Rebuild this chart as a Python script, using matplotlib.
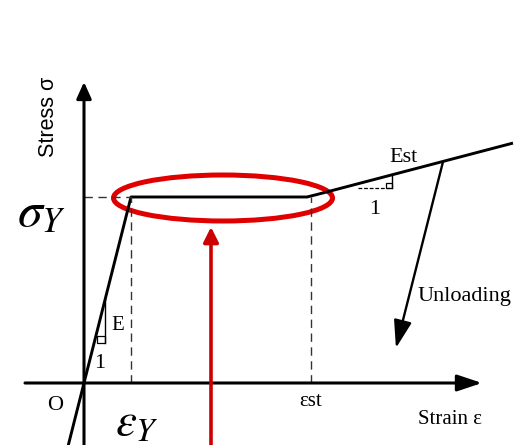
import matplotlib
matplotlib.use("Agg")
import matplotlib.pyplot as plt
from matplotlib.patches import Ellipse, Rectangle

plt.rcParams["mathtext.fontset"] = "stix"

# Idealised steel stress-strain relation (arbitrary units)
eps_y = 0.47          # yield strain
eps_st = 2.27         # onset of strain hardening
sigma_y = 1.86        # yield stress
E_mod = sigma_y / eps_y
E_st = 0.267          # hardening modulus
eps_end = 4.29        # end of drawn hardening branch
eps_unload = 3.59     # strain where unloading begins
sigma_unload_end = 0.35

curve_eps = [-0.16, 0.0, eps_y, eps_st - 0.04, eps_st + 0.06, eps_end]
curve_sig = [E_mod * -0.16, 0.0, sigma_y, sigma_y, sigma_y + 0.025,
             sigma_y + E_st * (eps_end - eps_st)]

fig = plt.figure(figsize=(5.22, 4.45), dpi=100)
ax = fig.add_axes([0, 0, 1, 1])
ax.set_xlim(-0.84, 4.38)
ax.set_ylim(-0.62, 3.83)
ax.axis("off")

serif = "Liberation Serif"
ink = "black"

# Axes with arrows
ax.annotate("", xy=(3.98, 0), xytext=(-0.59, 0),
            arrowprops=dict(arrowstyle="-|>,head_length=1.5,head_width=0.5",
                            color=ink, lw=2.2, shrinkA=0, shrinkB=0))
ax.annotate("", xy=(0, 3.01), xytext=(0, -0.64),
            arrowprops=dict(arrowstyle="-|>,head_length=1.0,head_width=0.45",
                            color=ink, lw=2.2, shrinkA=0, shrinkB=0))

# Stress-strain curve
ax.plot(curve_eps, curve_sig, color=ink, lw=2.1, solid_capstyle="butt")

# Unloading branch
sig_u = sigma_y + E_st * (eps_unload - eps_st)
eps_u_end = eps_unload - (sig_u - sigma_unload_end) / E_mod
ax.annotate("", xy=(eps_u_end, sigma_unload_end), xytext=(eps_unload, sig_u),
            arrowprops=dict(arrowstyle="-|>,head_length=1.7,head_width=0.55",
                            color=ink, lw=1.7, shrinkA=0, shrinkB=0))

# Dashed guides
dash = dict(color="#333333", lw=1.0, ls=(0, (6, 4)))
ax.plot([0, eps_y], [sigma_y, sigma_y], **dash)
ax.plot([eps_y, eps_y], [0, sigma_y], **dash)
ax.plot([eps_st, eps_st], [0, sigma_y], **dash)

# Slope triangle for E
tri_x = 0.21
ax.plot([tri_x, tri_x], [0.40, tri_x * E_mod + 0.02], color=ink, lw=1.0)
ax.add_patch(Rectangle((tri_x - 0.08, 0.40), 0.08, 0.07, fill=False, ec=ink, lw=0.9))
ax.text(tri_x + 0.06, 0.58, "E", family=serif, fontsize=15, ha="left", va="center")
ax.text(0.16, 0.19, "1", family=serif, fontsize=16, ha="center", va="center")

# Slope triangle for Est
t0, t1 = 2.74, 3.08
ax.plot([t0, t1], [sigma_y + 0.087, sigma_y + 0.087], color=ink, lw=0.9, ls=(0, (3, 1.5)))
ax.plot([t1, t1], [sigma_y + 0.087, sigma_y + E_st * (t1 - eps_st)], color=ink, lw=1.0)
ax.add_patch(Rectangle((t1 - 0.06, sigma_y + 0.087), 0.06, 0.055, fill=False, ec=ink, lw=0.9))
ax.text(2.91, 1.73, "1", family=serif, fontsize=16, ha="center", va="center")
ax.text(3.19, 2.25, "Est", family=serif, fontsize=16, ha="center", va="center")

# Labels
ax.text(3.34, 0.86, "Unloading", family=serif, fontsize=16, ha="left", va="center")
ax.text(eps_st, -0.18, "εst", family=serif, fontsize=15, ha="center", va="center")
ax.text(-0.29, -0.22, "O", family=serif, fontsize=16, ha="center", va="center")
ax.text(3.66, -0.36, "Strain ε", family=serif, fontsize=15, ha="center", va="center")
ax.text(-0.35, 2.66, "Stress σ", family="Liberation Sans", fontsize=15.5,
        rotation=90, ha="center", va="center")
ax.text(-0.18, sigma_y - 0.15, r"$\sigma_Y$", fontsize=36, ha="right", va="center")
ax.text(0.53, -0.40, r"$\varepsilon_Y$", fontsize=34, ha="center", va="center")

# Highlight on the yield plateau
red = "#e00000"
ax.add_patch(Ellipse((1.39, sigma_y - 0.01), 2.19, 0.46, fill=False,
                     ec=red, lw=3.6))
ax.annotate("", xy=(1.27, 1.56), xytext=(1.27, -0.64),
            arrowprops=dict(arrowstyle="-|>,head_length=0.9,head_width=0.45",
                            color="#cc0000", lw=2.6, shrinkA=0, shrinkB=0))

fig.savefig("out.png", dpi=100, facecolor="white")
